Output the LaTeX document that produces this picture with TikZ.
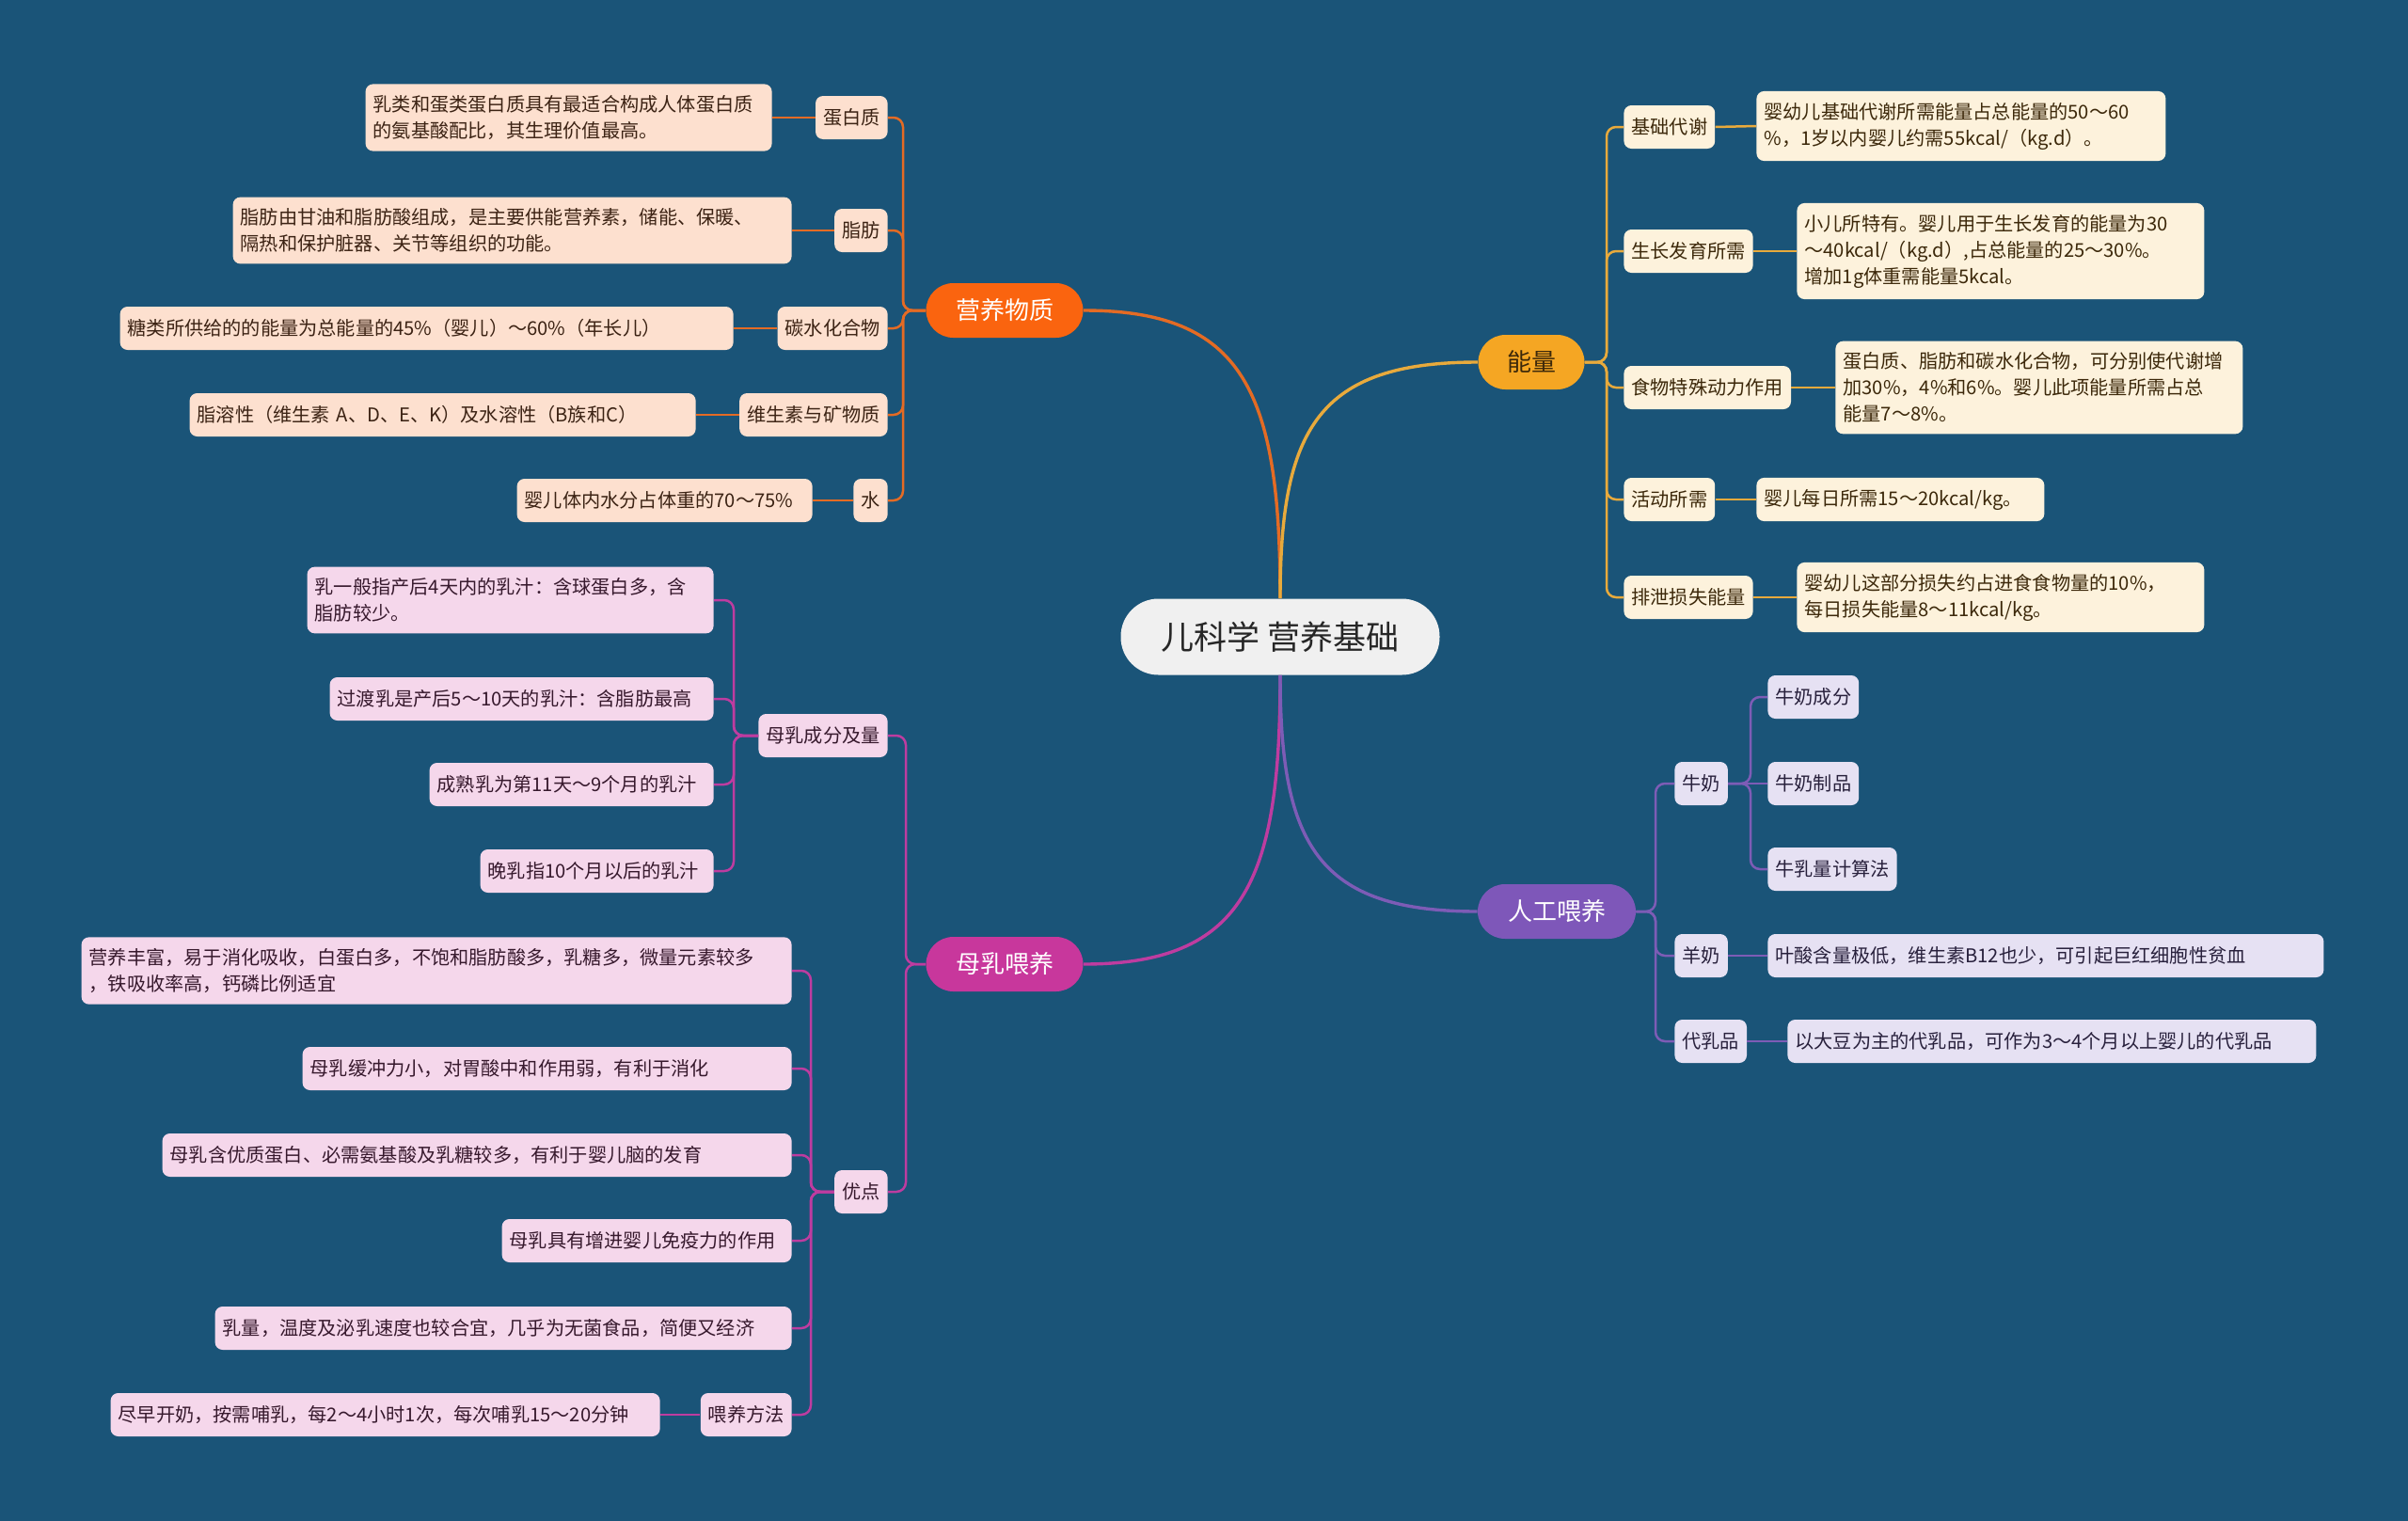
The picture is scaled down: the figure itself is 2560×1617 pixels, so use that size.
\documentclass[tikz,border=0pt]{standalone}
\usepackage{fontspec}
\setmainfont{Noto Sans CJK SC}
\definecolor{bg}{RGB}{26,84,120}
\definecolor{rootfill}{RGB}{240,240,240}
\definecolor{omain}{RGB}{250,100,15}
\definecolor{oline}{RGB}{228,107,36}
\definecolor{ofill}{RGB}{253,224,207}
\definecolor{otext}{RGB}{60,35,20}
\definecolor{emain}{RGB}{245,166,35}
\definecolor{eline}{RGB}{232,170,60}
\definecolor{efill}{RGB}{253,242,220}
\definecolor{etext}{RGB}{60,40,10}
\definecolor{pmain}{RGB}{200,55,156}
\definecolor{pline}{RGB}{190,60,160}
\definecolor{pfill}{RGB}{245,215,235}
\definecolor{ptext}{RGB}{55,25,45}
\definecolor{vmain}{RGB}{126,87,185}
\definecolor{vline}{RGB}{125,92,182}
\definecolor{vfill}{RGB}{230,225,243}
\definecolor{vtext}{RGB}{40,32,60}
\tikzset{
  rootnode/.style={fill=rootfill, text=black!85, rounded corners=20pt, minimum width=169.5pt, minimum height=40.5pt, font=\fontsize{17.5}{20}\selectfont},
  brnode/.style={rounded corners=14.5pt, minimum height=29pt, inner xsep=0pt, font=\fontsize{13}{15}\selectfont},
  lbl/.style={rounded corners=4pt, inner xsep=4pt, inner ysep=6pt, minimum height=23pt, font=\fontsize{10.1}{14}\selectfont, align=left},
  obox/.style={lbl, fill=ofill, text=otext},
  ebox/.style={lbl, fill=efill, text=etext},
  pbox/.style={lbl, fill=pfill, text=ptext},
  vbox/.style={lbl, fill=vfill, text=vtext},
  mainline/.style={line width=1.7pt},
  subline/.style={line width=1.25pt, rounded corners=5pt},
}
\begin{document}
\begin{tikzpicture}[x=0.5pt,y=-0.5pt]
\fill[bg] (0,0) rectangle (2560,1617);
\useasboundingbox (0,0) rectangle (2560,1617);

% root and main branches
\node[rootnode] (root) at (1361,677) {儿科学 营养基础};
\node[brnode, fill=omain, text=white, minimum width=83.5pt] (yy) at (1068,330) {营养物质};
\node[brnode, fill=emain, text=etext, minimum width=56.5pt] (nl) at (1628,385) {能量};
\node[brnode, fill=pmain, text=white, minimum width=83.5pt] (mr) at (1068,1025) {母乳喂养};
\node[brnode, fill=vmain, text=white, minimum width=84pt] (rg) at (1655,969) {人工喂养};

\draw[mainline, draw=oline] (root.north) .. controls +(0,-220) and +(170,0) .. (yy.east);
\draw[mainline, draw=eline] (root.north) .. controls +(0,-180) and +(-170,0) .. (nl.west);
\draw[mainline, draw=pline] (root.south) .. controls +(0,220) and +(170,0) .. (mr.east);
\draw[mainline, draw=vline] (root.south) .. controls +(0,180) and +(-170,0) .. (rg.west);

% ---------- 营养物质 ----------
\coordinate (ob) at (960,330);
\node[obox, anchor=east] (o1) at (944,125) {蛋白质};
\node[obox, anchor=east] (o2) at (944,245) {脂肪};
\node[obox, anchor=east] (o3) at (944,349) {碳水化合物};
\node[obox, anchor=east] (o4) at (944,441) {维生素与矿物质};
\node[obox, anchor=east] (o5) at (944,532) {水};
\node[obox, anchor=east, text width=208pt] (o1d) at (821,125) {乳类和蛋类蛋白质具有最适合构成人体蛋白质\\的氨基酸配比，其生理价值最高。};
\node[obox, anchor=east, text width=289pt] (o2d) at (842,245) {脂肪由甘油和脂肪酸组成，是主要供能营养素，储能、保暖、\\隔热和保护脏器、关节等组织的功能。};
\node[obox, anchor=east, text width=318pt] (o3d) at (780,349) {糖类所供给的的能量为总能量的45\%（婴儿）～60\%（年长儿）};
\node[obox, anchor=east, text width=261pt] (o4d) at (740,441) {脂溶性（维生素 A、D、E、K）及水溶性（B族和C）};
\node[obox, anchor=east, text width=149pt] (o5d) at (864,532) {婴儿体内水分占体重的70～75\%};
\foreach \n in {o1,o2,o3,o4,o5} {
  \draw[subline, draw=oline] (yy.west) -- (ob) |- (\n.east);
  \draw[subline, draw=oline] (\n.west) -- (\n d.east);
}

% ---------- 能量 ----------
\coordinate (eb) at (1708,385);
\node[ebox, anchor=west] (e1) at (1726,135) {基础代谢};
\node[ebox, anchor=west] (e2) at (1726,267) {生长发育所需};
\node[ebox, anchor=west] (e3) at (1726,412) {食物特殊动力作用};
\node[ebox, anchor=west] (e4) at (1726,531) {活动所需};
\node[ebox, anchor=west] (e5) at (1726,635) {排泄损失能量};
\node[ebox, anchor=west, text width=209.5pt] (e1d) at (1867,134) {婴幼儿基础代谢所需能量占总能量的50～60\\\%，1岁以内婴儿约需55kcal/（kg.d）。};
\node[ebox, anchor=west, text width=208.5pt] (e2d) at (1910,267) {小儿所特有。婴儿用于生长发育的能量为30\\～40kcal/（kg.d）,占总能量的25～30\%。\\增加1g体重需能量5kcal。};
\node[ebox, anchor=west, text width=208.5pt] (e3d) at (1951,412) {蛋白质、脂肪和碳水化合物，可分别使代谢增\\加30\%，4\%和6\%。婴儿此项能量所需占总\\能量7～8\%。};
\node[ebox, anchor=west, text width=145pt] (e4d) at (1867,531) {婴儿每日所需15～20kcal/kg。};
\node[ebox, anchor=west, text width=208.5pt] (e5d) at (1910,635) {婴幼儿这部分损失约占进食食物量的10\%，\\每日损失能量8～11kcal/kg。};
\foreach \n in {e1,e2,e3,e4,e5} {
  \draw[subline, draw=eline] (nl.east) -- (eb) |- (\n.west);
  \draw[subline, draw=eline] (\n.east) -- (\n d.west);
}

% ---------- 母乳喂养 ----------
\coordinate (pb) at (963,1025);
\node[pbox, anchor=east] (m1) at (944,782) {母乳成分及量};
\node[pbox, anchor=east] (m2) at (944,1267) {优点};
\draw[subline, draw=pline] (mr.west) -- (pb) |- (m1.east);
\draw[subline, draw=pline] (mr.west) -- (pb) |- (m2.east);

\coordinate (mb1) at (780,782);
\node[pbox, anchor=east, text width=208pt] (c1) at (759,638) {乳一般指产后4天内的乳汁：含球蛋白多，含\\脂肪较少。};
\node[pbox, anchor=east, text width=196pt] (c2) at (759,743) {过渡乳是产后5～10天的乳汁：含脂肪最高};
\node[pbox, anchor=east, text width=143pt] (c3) at (759,834) {成熟乳为第11天～9个月的乳汁};
\node[pbox, anchor=east, text width=116pt] (c4) at (759,926) {晚乳指10个月以后的乳汁};
\foreach \n in {c1,c2,c3,c4} {
  \draw[subline, draw=pline] (m1.west) -- (mb1) |- (\n.east);
}

\coordinate (mb2) at (862,1267);
\node[pbox, anchor=east, text width=369.5pt] (a1) at (842,1032) {营养丰富，易于消化吸收，白蛋白多，不饱和脂肪酸多，乳糖多，微量元素较多\\，铁吸收率高，钙磷比例适宜};
\node[pbox, anchor=east, text width=252pt] (a2) at (842,1136) {母乳缓冲力小，对胃酸中和作用弱，有利于消化};
\node[pbox, anchor=east, text width=326.5pt] (a3) at (842,1228) {母乳含优质蛋白、必需氨基酸及乳糖较多，有利于婴儿脑的发育};
\node[pbox, anchor=east, text width=146pt] (a4) at (842,1319) {母乳具有增进婴儿免疫力的作用};
\node[pbox, anchor=east, text width=298.5pt] (a5) at (842,1412) {乳量，温度及泌乳速度也较合宜，几乎为无菌食品，简便又经济};
\node[pbox, anchor=east] (a6) at (842,1504) {喂养方法};
\node[pbox, anchor=east, text width=284pt] (a6d) at (702,1504) {尽早开奶，按需哺乳，每2～4小时1次，每次哺乳15～20分钟};
\foreach \n in {a1,a2,a3,a4,a5,a6} {
  \draw[subline, draw=pline] (m2.west) -- (mb2) |- (\n.east);
}
\draw[subline, draw=pline] (a6.west) -- (a6d.east);

% ---------- 人工喂养 ----------
\coordinate (vb) at (1760,969);
\node[vbox, anchor=west] (n1) at (1780,833) {牛奶};
\node[vbox, anchor=west] (n2) at (1780,1016) {羊奶};
\node[vbox, anchor=west] (n3) at (1780,1107) {代乳品};
\foreach \n in {n1,n2,n3} {
  \draw[subline, draw=vline] (rg.east) -- (vb) |- (\n.west);
}
\coordinate (nb) at (1861,833);
\node[vbox, anchor=west] (k1) at (1879,741) {牛奶成分};
\node[vbox, anchor=west] (k2) at (1879,833) {牛奶制品};
\node[vbox, anchor=west] (k3) at (1879,924) {牛乳量计算法};
\draw[subline, draw=vline] (n1.east) -- (nb) |- (k1.west);
\draw[subline, draw=vline] (n1.east) -- (k2.west);
\draw[subline, draw=vline] (n1.east) -- (nb) |- (k3.west);
\node[vbox, anchor=west, text width=287.5pt] (n2d) at (1879,1016) {叶酸含量极低，维生素B12也少，可引起巨红细胞性贫血};
\node[vbox, anchor=west, text width=273pt] (n3d) at (1900,1107) {以大豆为主的代乳品，可作为3～4个月以上婴儿的代乳品};
\draw[subline, draw=vline] (n2.east) -- (n2d.west);
\draw[subline, draw=vline] (n3.east) -- (n3d.west);
\end{tikzpicture}
\end{document}
